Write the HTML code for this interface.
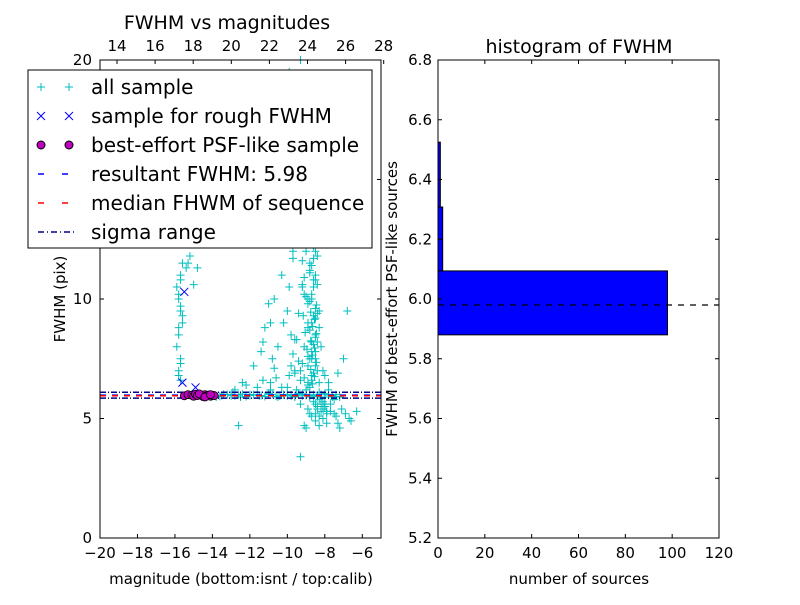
<!DOCTYPE html>
<html><head><meta charset="utf-8"><style>
body{margin:0;background:#fff;}
svg text{font-family:"DejaVu Sans","Liberation Sans",sans-serif;}
</style></head><body>
<svg id="c" width="800" height="600" xmlns="http://www.w3.org/2000/svg">
<rect width="800" height="600" fill="#fff"/>
<g id="left"></g>
<g id="right"></g>
</svg>
<script>
// ---- scatter data (bottom-axis magnitude, FWHM) ----
const allMag = [-15.8,-15.7,-15.9,-15.8,-15.6,-15.7,-15.8,-15.9,-15.7,-15.6,-15.8,-15.7,-15.4,-15.2,-15.3,-15.0,-14.8,
 -13.5,-13.0,-12.5,-12.0,-11.5,-11.0,-10.5,-10.2,-10.0,-9.8,-9.6,-9.4,-9.2,-9.0,-8.8,-8.6,-8.4,-8.2,-8.0,-7.8,-7.6,-7.4,-7.2,
 -9.3,-9.1,-8.9,-8.7,-8.5,-9.0,-8.8,-8.6,-8.9,-8.7,-8.5,-8.3,-9.2,-8.8,-8.6,-8.4,-8.9,-8.7,-8.5,-9.1,-8.8,-8.6,-8.7,-8.5,-8.3,-8.9,-8.6,-8.4,-8.8,-8.6,-8.7,-8.5,-8.9,-8.6,
 -8.4,-8.2,-8.0,-7.9,-8.3,-8.1,-8.5,-8.2,-8.0,-7.8,-8.4,-8.6,
 -10.8,-10.5,-10.2,-9.9,-9.7,-9.5,-10.9,-10.3,-10.0,-9.8,-9.6,-11.2,-10.6,-10.1,-9.7,-10.4,-9.9,-11.5,-10.7,-9.4,-9.3,-10.0,
 -9.8,-9.6,-9.4,-9.2,-9.7,-9.5,-9.3,-10.2,-9.9,-9.1,-9.6,-9.0,-9.4,
 -12.8,-12.2,-11.6,-11.3,-11.0,-12.4,-11.8,-10.9,-12.9,-11.4,
 -8.1,-7.9,-7.7,-8.3,-8.0,-7.6,-7.4,-7.2,-6.9,-6.6,-6.3,-7.0,-8.5,-7.8,-7.5,-6.8,-7.3,
 -9.1,-9.3,-8.7,-8.5,-9.0,-8.8,-7.3,-6.7,-10.6,-12.6,
 -8.8,-8.7,-8.6,-8.5,-8.8,-8.7,-8.6,-8.5,-8.8,-8.7,-8.6,-8.5,-8.8,-8.7,-8.6,-8.5,-8.8,-8.7,-8.6,-8.5,-8.9,-8.4,-8.9,-8.4,-8.9,-8.4,-8.9,-8.4,
 -8.65,-8.55,-8.75,-8.45,-8.65,-8.55,-8.75,-8.45,-8.65,-8.55,-8.75,-8.45,-8.6,-8.7,-8.6,-8.7,-8.3,-8.2,-8.1,-8.3,-8.2,-8.1,-8.0,-7.9,
 -9.0,-9.1,-9.2,-8.95,-9.05,-9.15,-9.0,-9.1,-9.2,-9.0,-9.1,-9.0,-9.3,-9.4,-9.5,
 -14.0,-13.6,-13.2,-12.8,-12.4,-12.0,-11.6,-11.2,-10.8,-10.4,-10.0,-9.6,-9.2,-8.8,-8.4,-8.0,-7.6,
 -13.8,-13.4,-13.0,-12.6,-12.2,-11.8,-11.4,-11.0,-10.6,-10.2,-9.8,-9.4,-9.0,-8.6,-8.2,-7.8,-7.4,
 -11.3,-10.9,-10.7,-10.3,-9.9,-9.7,-9.5,-9.3,-8.9,-8.5,-8.3,-8.1,-7.9,-7.7,-7.5,-7.1,
 -15.7,-15.8,-15.6,-15.7,-15.8,-15.7];
const allFwhm = [7.0,7.5,8.0,8.5,9.0,9.5,10.0,10.5,11.0,11.5,6.8,6.6,11.3,11.8,11.5,10.6,11.3,
 5.95,6.0,5.9,6.0,5.95,6.0,5.9,6.0,5.95,6.0,5.9,6.05,5.95,6.0,5.9,6.0,5.95,6.0,5.9,6.0,5.95,6.0,5.9,
 7.0,8.0,9.0,10.0,11.0,12.0,13.0,14.0,6.5,7.5,8.5,9.5,10.5,11.5,12.5,13.5,7.2,8.2,9.2,10.2,11.2,12.2,6.8,7.8,8.8,9.8,10.8,11.8,12.8,13.8,15.0,16.5,17.5,18.5,
 5.5,5.3,5.6,5.2,6.5,7.0,7.5,8.0,6.8,6.2,5.4,5.7,
 7.5,8.0,9.0,10.5,12.0,13.5,6.5,11.0,9.5,8.5,7.0,8.8,14.0,15.5,16.0,17.0,19.5,12.5,10.0,18.0,20.0,6.3,
 7.2,8.3,9.4,10.6,11.7,12.9,14.2,16.8,19.0,15.2,6.9,13.0,17.5,
 6.2,6.4,6.3,8.2,9.8,6.5,7.2,9.0,6.1,7.8,
 5.0,4.8,5.3,4.7,5.5,5.9,5.1,4.6,5.2,4.9,5.3,7.5,4.9,6.5,5.8,9.5,6.9,
 4.7,3.4,5.1,5.6,4.6,5.2,4.8,5.0,6.7,4.7,
 6.3,6.6,6.9,7.2,7.5,7.8,8.1,8.4,8.7,9.0,9.3,9.6,9.9,10.2,10.5,10.8,11.1,11.4,11.7,12.0,6.4,7.0,7.6,8.2,8.8,9.4,10.0,10.6,
 6.45,6.75,7.05,7.35,7.65,7.95,8.25,8.55,8.85,9.15,9.45,9.75,12.4,12.8,13.3,13.9,5.8,5.6,5.4,6.1,5.9,5.7,5.5,5.3,
 6.2,6.7,7.3,7.9,8.6,9.3,10.1,10.9,11.6,12.4,13.2,14.5,6.6,7.4,8.3,
 5.97,5.93,6.0,5.95,6.02,5.96,5.99,5.92,6.01,5.94,5.98,5.93,6.03,5.97,5.91,6.04,5.96,
 5.9,6.02,5.95,5.98,5.92,6.0,5.96,6.05,5.93,5.99,5.94,6.01,5.97,5.95,5.9,5.98,5.92,
 6.6,6.2,7.1,6.3,6.8,7.7,6.2,5.6,5.4,5.2,5.1,5.5,5.3,5.6,5.2,5.4,
 7.3,8.8,9.3,9.7,10.2,10.8];
const roughMag = [-15.5,-15.6,-14.9];
const roughFwhm = [10.3,6.5,6.3];
const bestMag = [-15.5,-15.3,-15.1,-15.0,-14.9,-14.8,-14.6,-14.5,-14.4,-14.3,-14.2,-14.1,-14.0,-13.9,-14.7,-14.4,-14.1];
const bestFwhm = [5.95,6.0,5.97,5.93,6.02,5.96,5.99,5.92,6.0,5.95,5.98,5.93,5.97,5.96,6.03,5.9,6.0];
const resultFwhm = 5.98, medianFwhm = 5.95, sigmaLow = 5.85, sigmaHigh = 6.1;
// ---- axis ticks ----
const xTicks = [-20,-18,-16,-14,-12,-10,-8,-6];
const topTicks = [14,16,18,20,22,24,26,28];
const yTicks = [0,5,10,15,20];
// ---- histogram data ----
const binEdges = [5.880,6.094,6.308,6.525];
const binCounts = [98,2,1];
const histXTicks = [0,20,40,60,80,100,120];
const histYTicks = [5.2,5.4,5.6,5.8,6.0,6.2,6.4,6.6,6.8];

const NS='http://www.w3.org/2000/svg';
function el(p,t,a,txt){const e=document.createElementNS(NS,t);for(const k in a)e.setAttribute(k,a[k]);if(txt!==undefined)e.textContent=txt;p.appendChild(e);return e;}
const L=document.getElementById('left'), R=document.getElementById('right');
const lx0=100,lx1=381,ly0=60,ly1=538;
const sx=m=>lx0+(m+20)/15*(lx1-lx0);
const tx=m=>117+(m-14)*19.05;
const sy=v=>ly1-v/20*(ly1-ly0);
function hline(v,color,dash,name){const e=el(L,'line',{x1:lx0,x2:lx1,y1:sy(v),y2:sy(v),stroke:color,'stroke-width':1.5,'stroke-dasharray':dash});

}
const gAll=el(L,'g',{stroke:'#00bfbf','stroke-width':1,fill:'none'});


allMag.forEach((m,i)=>{const x=sx(m),y=sy(allFwhm[i]);const p=el(gAll,'path',{d:`M${x-4},${y}h8M${x},${y-4}v8`});

});
hline(sigmaLow,'#00008b','6,2,1,2','sigma-low-line');
hline(sigmaHigh,'#00008b','6,2,1,2','sigma-high-line');
hline(resultFwhm,'#0000ff','6,6','resultant-fwhm-line');
hline(medianFwhm,'#ff0000','6,6','median-fwhm-line');
const gR=el(L,'g',{stroke:'#0000ff','stroke-width':1});
roughMag.forEach((m,i)=>{const x=sx(m),y=sy(roughFwhm[i]);const p=el(gR,'path',{d:`M${x-4},${y-4}l8,8M${x-4},${y+4}l8,-8`});

});
bestMag.forEach((m,i)=>{const c=el(L,'circle',{cx:sx(m),cy:sy(bestFwhm[i]),r:4,fill:'#bf00bf',stroke:'#000','stroke-width':0.8});

});
el(L,'rect',{x:lx0,y:ly0,width:lx1-lx0,height:ly1-ly0,fill:'none',stroke:'#000'});
xTicks.forEach(t=>{const x=sx(t);el(L,'path',{d:`M${x},${ly1}v-4`,stroke:'#000'});
const s=el(L,'text',{x:x,y:ly1+20,'font-size':15,'text-anchor':'middle'},'\u2212'+Math.abs(t));

});
topTicks.forEach(t=>{const x=tx(t);el(L,'path',{d:`M${x},${ly0}v4`,stroke:'#000'});
const s=el(L,'text',{x:x,y:ly0-9,'font-size':15,'text-anchor':'middle'},t);

});
yTicks.forEach(t=>{const y=sy(t);el(L,'path',{d:`M${lx0},${y}h4M${lx1},${y}h-4`,stroke:'#000'});
const s=el(L,'text',{x:lx0-8,y:y+5,'font-size':15,'text-anchor':'end'},t);

});
let t=el(L,'text',{x:227,y:29,'font-size':19,'text-anchor':'middle'},'FWHM vs magnitudes');

t=el(L,'text',{x:241,y:584,'font-size':15,'text-anchor':'middle'},'magnitude (bottom:isnt / top:calib)');

t=el(L,'text',{x:65,y:299,'font-size':15,'text-anchor':'middle',transform:'rotate(-90 65 299)'},'FWHM (pix)');

const lg=el(L,'g',{});

el(lg,'rect',{x:28,y:70,width:344,height:178,fill:'#fff',stroke:'#000'});
const ent=[['all sample','plus'],['sample for rough FWHM','x'],['best-effort PSF-like sample','o'],['resultant FWHM: 5.98','blue'],['median FHWM of sequence','red'],['sigma range','dd']];
ent.forEach((e,i)=>{const y=87+i*29;const g=el(lg,'g',{});

[41,69].forEach(x=>{if(e[1]=='plus')el(g,'path',{d:`M${x-4},${y}h8M${x},${y-4}v8`,stroke:'#00bfbf'});
if(e[1]=='x')el(g,'path',{d:`M${x-4},${y-4}l8,8M${x-4},${y+4}l8,-8`,stroke:'#0000ff'});
if(e[1]=='o')el(g,'circle',{cx:x,cy:y,r:4,fill:'#bf00bf',stroke:'#000'});});
if(e[1]=='blue')el(g,'line',{x1:38,x2:74,y1:y,y2:y,stroke:'#0000ff','stroke-width':1.5,'stroke-dasharray':'6,18'});
if(e[1]=='red')el(g,'line',{x1:38,x2:74,y1:y,y2:y,stroke:'#ff0000','stroke-width':1.5,'stroke-dasharray':'6,18'});
if(e[1]=='dd')el(g,'line',{x1:38,x2:74,y1:y,y2:y,stroke:'#00008b','stroke-width':1.5,'stroke-dasharray':'6,3,1,3'});
el(g,'text',{x:91,y:y+7,'font-size':20},e[0]);});
const rx0=438,rx1=719;
const hx=v=>rx0+v/120*(rx1-rx0);
const hy=v=>ly1-(v-5.2)/1.6*(ly1-ly0);
binCounts.forEach((c,i)=>{const r=el(R,'rect',{x:hx(0),y:hy(binEdges[i+1]),width:hx(c)-hx(0),height:hy(binEdges[i])-hy(binEdges[i+1]),fill:'#0000ff',stroke:'#000','stroke-width':1});
});
t=el(R,'line',{x1:rx0,x2:rx1,y1:hy(resultFwhm),y2:hy(resultFwhm),stroke:'#000','stroke-width':1.2,'stroke-dasharray':'6,6'});

el(R,'rect',{x:rx0,y:ly0,width:rx1-rx0,height:ly1-ly0,fill:'none',stroke:'#000'});
histXTicks.forEach(v=>{const x=hx(v);el(R,'path',{d:`M${x},${ly1}v-4M${x},${ly0}v4`,stroke:'#000'});
const s=el(R,'text',{x:x,y:ly1+20,'font-size':15,'text-anchor':'middle'},v);
});
histYTicks.forEach(v=>{const y=hy(v);el(R,'path',{d:`M${rx0},${y}h4M${rx1},${y}h-4`,stroke:'#000'});
const s=el(R,'text',{x:rx0-6,y:y+5,'font-size':15,'text-anchor':'end'},v.toFixed(1));
});
t=el(R,'text',{x:579,y:53,'font-size':19,'text-anchor':'middle'},'histogram of FWHM');

t=el(R,'text',{x:579,y:584,'font-size':15,'text-anchor':'middle'},'number of sources');

t=el(R,'text',{x:397,y:299,'font-size':15,'text-anchor':'middle',transform:'rotate(-90 397 299)'},'FWHM of best-effort PSF-like sources');

</script>
</body></html>
